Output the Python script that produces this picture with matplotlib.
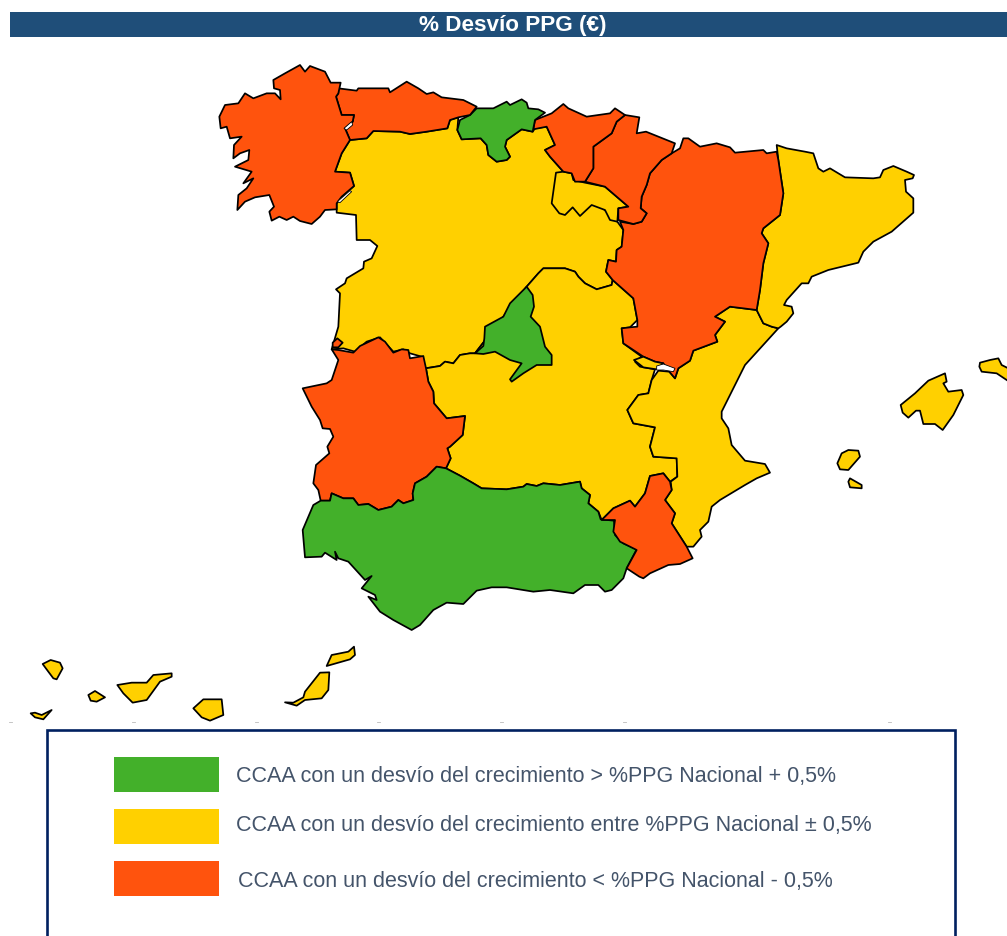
import numpy as np
import matplotlib
matplotlib.use("Agg")
import matplotlib.pyplot as plt
from matplotlib.patches import Polygon, Rectangle

plt.rcParams['font.family'] = ['Liberation Sans', 'DejaVu Sans']

Z1 = (210, 60)
Z2 = (530, 90)
Z3 = (290, 330)
Z4 = (600, 350)
Z5 = (0, 640)


def v(origin, pts):
    a = np.array(pts, float)
    return a / 3 + np.array(origin, float)


GALICIA = v(Z1, [(270,15),(285,35),(300,18),(345,35),(362,68),(392,68),(385,100),(378,110),(395,165),(432,165),(428,185),(405,205),(420,240),(395,280),(375,335),(420,338),(432,378),(395,410),(380,430),(380,448),(345,450),(330,470),(305,492),(270,483),(250,470),(230,480),(208,470),(185,482),(178,455),(192,440),(178,405),(135,412),(105,425),(82,450),(85,405),(110,385),(130,355),(100,370),(125,335),(75,320),(115,300),(118,270),(90,280),(70,295),(72,255),(95,230),(60,235),(50,200),(32,205),(28,170),(45,135),(85,130),(105,100),(130,115),(170,100),(195,100),(212,118),(210,90),(192,85),(190,60),(225,40)])
ASTURIAS = v(Z1, [(385,85),(440,92),(445,85),(535,85),(540,97),(590,65),(625,85),(650,102),(670,97),(695,112),(760,120),(800,140),(780,165),(745,172),(720,180),(712,205),(650,215),(600,222),(570,215),(490,213),(470,235),(420,240),(405,205),(428,185),(432,165),(395,165),(378,110),(385,100)])
CANTABRIA = v(Z1, [(800,145),(850,145),(890,125),(900,135),(935,118),(950,128),(955,145),(985,148),(1005,158),(975,180),(968,215),(935,208),(890,240),(885,260),(900,290),(890,300),(860,305),(835,285),(830,255),(812,235),(755,238),(742,210),(750,180),(780,165)])
CASTILLA_LEON = np.vstack([
    v(Z1, [(420,240),(470,235),(490,213),(570,215),(600,222),(650,215),(712,205),(720,180),(745,172),(742,210),(755,238),(812,235),(830,255),(835,285),(860,305),(890,300),(900,290),(885,260),(890,240),(935,208),(968,215),(975,205)]),
    v(Z2, [(50,110),(75,165),(45,180),(60,200),(100,245),(262,395),(280,420),(275,470),(260,480),(258,515),(235,510),(228,545),(248,570),(245,585),(200,598),(165,580),(145,560),(135,545),(105,535),(40,535)]),
    v(Z1, [(985,640),(950,680),(795,880),(780,880),(750,885),(730,910),(705,905),(690,918),(645,925),(635,890),(600,880),(580,868),(550,875),(510,832),(470,845),(435,875),(400,865),(365,868),(385,800),(390,700),(378,688),(405,670),(410,655),(460,625),(462,605),(485,595),(502,558),(480,540),(440,540),(438,465),(380,458),(380,448),(380,430),(395,410),(432,378),(420,338),(375,335),(395,280)]),
])
PORTUGAL_ENCLAVE = v(Z1, [(368,848),(382,835),(398,848),(385,862),(368,862)])
RIOJA = v(Z2, [(78,248),(100,245),(125,250),(130,270),(165,278),(225,290),(260,320),(295,350),(265,355),(262,395),(240,390),(225,360),(185,345),(150,378),(128,352),(105,375),(88,370),(65,340)])
PAIS_VASCO = v(Z2, [(15,90),(65,70),(100,42),(115,55),(170,80),(240,70),(255,55),(285,75),(260,95),(245,130),(190,170),(190,235),(165,275),(135,275),(125,250),(100,245),(60,200),(45,180),(75,165),(50,110),(10,118)])
NAVARRA = v(Z2, [(285,75),(328,82),(320,130),(348,125),(435,160),(425,190),(395,210),(360,250),(350,285),(335,320),(332,355),(350,370),(335,395),(310,402),(265,390),(265,355),(295,350),(260,320),(225,290),(165,275),(190,235),(190,170),(245,130),(260,95)])
ARAGON = v(Z2, [(460,145),(475,145),(510,170),(560,160),(600,172),(615,188),(700,180),(710,190),(740,185),(745,210),(760,310),(750,375),(700,415),(695,430),(715,460),(700,520),(690,600),(680,660),(600,650),(555,680),(585,695),(555,735),(562,755),(490,782),(480,812),(445,835),(435,865),(418,845),(400,820),(375,815),(340,800),(280,760),(275,715),(300,712),(322,710),(322,690),(310,625),(248,570),(228,545),(235,510),(258,515),(260,480),(275,470),(280,420),(270,395),(310,402),(335,395),(350,370),(332,355),(335,320),(350,285),(360,250),(395,210),(425,190),(450,175)])
CATALUNA = v(Z2, [(740,165),(770,175),(825,185),(850,190),(865,235),(880,245),(900,235),(945,262),(1030,265),(1050,262),(1060,240),(1090,228),(1130,245),(1152,255),(1148,265),(1125,270),(1128,305),(1150,325),(1150,368),(1085,425),(1030,455),(1000,485),(985,518),(895,540),(845,560),(835,580),(815,580),(770,630),(762,645),(785,650),(790,670),(770,695),(752,710),(745,715),(725,710),(700,700),(680,660),(690,600),(700,520),(715,460),(695,430),(700,415),(750,375),(760,310),(745,210)])
VALENCIA = np.vstack([
    v(Z2, [(680,660),(600,650),(555,680),(585,695),(555,735),(562,755),(490,782),(480,812),(445,835),(435,865),(418,845),(385,842),(365,870),(355,910),(325,915)]),
    v(Z4, [(82,180),(100,220),(165,232),(150,290),(160,320),(230,325),(232,380),(212,395),(215,420),(195,450),(225,490),(215,520),(260,590),(280,590),(305,560),(300,540),(325,515),(335,470),(360,450),(435,405),(470,385),(510,368),(495,342),(435,332),(395,285),(385,235),(365,205),(365,185)]),
    v(Z2, [(645,825),(745,715),(725,710),(700,700)]),
])
ADEMUZ = v(Z2, [(312,810),(340,800),(375,815),(400,820),(380,838),(340,832)])
CASTILLA_MANCHA = np.vstack([
    v(Z2, [(40,535),(105,535),(135,545),(145,560),(165,580),(200,598),(245,585),(248,570),(310,625),(322,690),(300,712),(275,715),(280,760),(335,800),(315,815),(330,830),(375,838),(365,870),(355,910),(325,915)]),
    v(Z4, [(82,180),(100,220),(165,232),(150,290),(160,320),(230,325),(232,380),(210,395),(190,370),(150,378),(135,430),(105,470),(90,452),(40,475),(5,510)]),
    v(Z3, [(925,545),(895,520),(900,495),(875,475),(870,455),(810,465),(760,460),(740,468),(710,462),(700,470),(650,478),(575,475),(550,460),(510,437),(468,415),(482,385),(472,355),(480,350),(518,315),(525,258),(470,265),(432,220),(430,185),(415,155),(408,115)]),
    v(Z1, [(690,918),(705,905),(730,910),(750,885),(780,880),(795,880),(950,680),(985,640)]),
])
MADRID = np.vstack([
    v(Z1, [(950,680),(968,705),(972,740),(962,770),(990,800),(1005,860),(1025,885),(1025,915)]),
    v(Z3, [(740,105),(700,130),(665,155),(660,148),(695,100),(660,90),(615,65),(580,72),(555,70),(580,48),(583,25)]),
    v(Z1, [(825,800),(880,770),(900,730)]),
])
EXTREMADURA = v(Z3, [(125,58),(145,60),(190,68),(210,48),(265,22),(285,35),(310,68),(335,58),(355,60),(360,85),(400,78),(408,115),(415,155),(430,185),(432,220),(470,265),(525,258),(518,315),(480,350),(472,355),(482,385),(468,415),(440,410),(410,440),(375,460),(368,490),(370,510),(340,520),(325,510),(305,530),(265,540),(235,522),(205,525),(190,505),(160,505),(125,490),(120,512),(92,512),(85,480),(70,460),(78,405),(118,370),(112,350),(130,320),(120,297),(98,295),(90,270),(65,230),(38,175),(110,160),(125,150),(145,90)])
ANDALUCIA = v(Z3, [(440,410),(468,415),(510,437),(550,460),(575,475),(650,478),(700,470),(710,462),(740,468),(760,460),(810,465),(870,455),(875,475),(900,495),(895,520),(925,545),(932,568),(972,572),(975,615),(1000,640),(1040,658),(1010,715),(1000,745),(965,780),(945,785),(925,765),(885,765),(850,790),(780,780),(730,785),(650,772),(605,772),(560,782),(520,822),(470,818),(430,840),(390,885),(365,900),(310,870),(270,845),(235,800),(260,810),(255,795),(215,775),(245,738),(225,750),(175,695),(145,685),(135,665),(140,690),(105,668),(95,680),(45,682),(38,600),(70,525),(92,512),(120,512),(125,490),(160,505),(190,505),(205,525),(235,522),(265,540),(305,530),(325,510),(340,520),(370,510),(368,490),(375,460),(410,440)])
MURCIA = v(Z4, [(150,378),(190,370),(210,395),(215,420),(195,450),(225,490),(215,520),(260,590),(278,625),(240,642),(205,645),(150,670),(130,685),(118,680),(80,655),(110,600),(60,575),(40,545),(45,510),(5,510),(40,475),(90,452),(105,470),(135,430)])
MALLORCA = v(Z4, [(902,165),(945,130),(985,92),(1035,70),(1040,95),(1030,100),(1045,125),(1085,120),(1090,135),(1060,195),(1028,240),(1005,222),(970,222),(960,182),(948,182),(925,203),(908,188)])
MENORCA = v(Z4, [(1140,38),(1170,30),(1195,25),(1205,45),(1235,60),(1235,100),(1190,70),(1145,65),(1138,50)])
IBIZA = v(Z4, [(712,340),(725,310),(745,300),(775,302),(780,320),(745,360),(720,358)])
FORMENTERA = v(Z4, [(745,395),(750,385),(785,405),(785,415),(750,412)])
EL_HIERRO = v(Z5, [(92,220),(105,218),(125,225),(155,210),(130,238),(105,232)])
LA_PALMA = v(Z5, [(128,72),(152,60),(180,68),(188,85),(170,118),(160,115),(145,95)])
LA_GOMERA = v(Z5, [(265,165),(285,153),(315,172),(290,185),(272,182)])
TENERIFE = v(Z5, [(352,135),(395,128),(440,128),(460,105),(515,100),(515,110),(480,125),(440,180),(398,188),(370,160)])
GRAN_CANARIA = v(Z5, [(580,205),(610,178),(665,178),(670,225),(630,242),(605,232)])
FUERTEVENTURA = v(Z5, [(855,187),(880,188),(910,172),(915,155),(960,98),(988,97),(985,150),(965,175),(915,180),(890,197)])
LANZAROTE = v(Z5, [(980,78),(995,45),(1045,35),(1062,20),(1065,45),(1050,58)])
GAP_TERUEL = v(Z2, [(380,828),(400,822),(435,835),(430,845),(400,840),(380,840)])
GAP_ASTURIAS = v(Z1, [(402,205),(425,185),(428,195),(410,210)])
GAP_LEON = v(Z1, [(382,425),(420,392),(425,395),(390,428)])

GREEN = 'high'
YELLOW = 'mid'
ORANGE = 'low'
REGIONS = [
    (CASTILLA_LEON, YELLOW), (CASTILLA_MANCHA, YELLOW), (VALENCIA, YELLOW), (CATALUNA, YELLOW),
    (ARAGON, ORANGE), (ADEMUZ, YELLOW), (RIOJA, YELLOW), (NAVARRA, ORANGE), (PAIS_VASCO, ORANGE),
    (CANTABRIA, GREEN), (ASTURIAS, ORANGE), (GALICIA, ORANGE), (EXTREMADURA, ORANGE), (PORTUGAL_ENCLAVE, ORANGE),
    (ANDALUCIA, GREEN), (MURCIA, ORANGE), (MADRID, GREEN),
    (MALLORCA, YELLOW), (MENORCA, YELLOW), (IBIZA, YELLOW), (FORMENTERA, YELLOW),
    (EL_HIERRO, YELLOW), (LA_PALMA, YELLOW), (LA_GOMERA, YELLOW), (TENERIFE, YELLOW),
    (GRAN_CANARIA, YELLOW), (FUERTEVENTURA, YELLOW), (LANZAROTE, YELLOW),
]
GAPS = [GAP_TERUEL, GAP_ASTURIAS, GAP_LEON]

COLORS = {GREEN: '#43B02A', YELLOW: '#FFD000', ORANGE: '#FF530D'}
TITLE = '% Desvío PPG (€)'
LEGEND_KEYS = [GREEN, YELLOW, ORANGE]
LEGEND_LABELS = [
    'CCAA con un desvío del crecimiento > %PPG Nacional + 0,5%',
    'CCAA con un desvío del crecimiento entre %PPG Nacional ± 0,5%',
    'CCAA con un desvío del crecimiento < %PPG Nacional - 0,5%',
]
LEGEND_TOPS = [757, 809, 861]
LEGEND_TEXT_X = [236, 236, 238]
LEGEND_TEXT_Y = [776, 825, 881]
FAINT_X = [10, 133, 256, 378, 501, 624, 889]

fig = plt.figure(figsize=(10.07, 9.37), dpi=100, facecolor='white')
ax = fig.add_axes([0, 0, 1, 1])
ax.set_xlim(0, 1007)
ax.set_ylim(936, -1)
ax.axis('off')

ax.add_patch(Rectangle((10, 12), 997, 25, fc='#1F4E79', ec='none'))
ax.text(513, 25, TITLE, color='white', fontsize=16.2, fontweight='bold', ha='center', va='center')

for pts, key in REGIONS:
    ax.add_patch(Polygon(pts, closed=True, fc=COLORS[key], ec='black', lw=1.25, joinstyle='round'))
for pts in GAPS:
    ax.add_patch(Polygon(pts, closed=True, fc='white', ec='black', lw=0.6))

for x in FAINT_X:
    ax.plot([x - 1.5, x + 1.5], [722, 722], color='#BBBBBB', lw=0.6)

ax.add_patch(Rectangle((47, 730), 907.5, 230, fc='white', ec='#002060', lw=1.9))
for key, top, label, tx, ty in zip(LEGEND_KEYS, LEGEND_TOPS, LEGEND_LABELS, LEGEND_TEXT_X, LEGEND_TEXT_Y):
    ax.add_patch(Rectangle((114, top), 105, 35, fc=COLORS[key], ec='none'))
    ax.text(tx, ty, label, color='#44546A', fontsize=15.5, ha='left', va='center')

fig.savefig('out.png', dpi=100, facecolor='white')
